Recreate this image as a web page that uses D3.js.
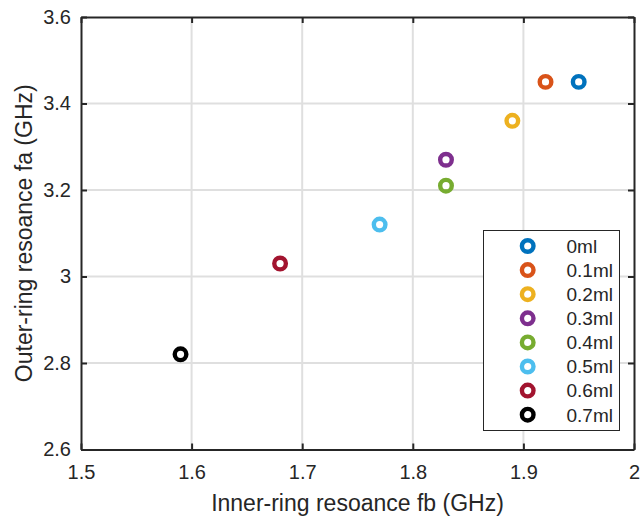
<!DOCTYPE html>
<html><head><meta charset="utf-8">
<script src="https://cdn.jsdelivr.net/npm/d3@7"></script>
<style>body{margin:0;background:#fff}svg{display:block}text{font-family:"Liberation Sans",Arial,Helvetica,sans-serif;fill:#262626}</style>
</head><body><svg id="c" width="641" height="516"></svg>
<script>
const labels = ["0ml","0.1ml","0.2ml","0.3ml","0.4ml","0.5ml","0.6ml","0.7ml"];
const fbValues = [1.95, 1.92, 1.89, 1.83, 1.83, 1.77, 1.68, 1.59];
const faValues = [3.45, 3.45, 3.36, 3.27, 3.21, 3.12, 3.03, 2.82];
const colors = ["#0072BD","#D95319","#EDB120","#7E2F8E","#77AC30","#4DBEEE","#A2142F","#000000"];
const xTicks = [1.5,1.6,1.7,1.8,1.9,2];
const yTicks = [2.6,2.8,3.0,3.2,3.4,3.6];
const xTickLabels = ["1.5","1.6","1.7","1.8","1.9","2"];
const yTickLabels = ["2.6","2.8","3","3.2","3.4","3.6"];
const xTitle = "Inner-ring resoance fb (GHz)";
const yTitle = "Outer-ring resoance fa (GHz)";

(function(){
const svg = d3.select("#c");
const L=81, R=634, T=17, B=449.5;
const x = d3.scaleLinear().domain([1.5,2]).range([L,R]);
const y = d3.scaleLinear().domain([2.6,3.6]).range([B,T]);
const axC = "#262626";

const g = svg.append("g");
g.selectAll(".gx").data(xTicks.slice(1,-1)).enter().append("line")
  .attr("x1",d=>x(d)).attr("x2",d=>x(d)).attr("y1",T).attr("y2",B)
  .attr("stroke","#dfdfdf").attr("stroke-width",2);
g.selectAll(".gy").data(yTicks.slice(1,-1)).enter().append("line")
  .attr("y1",d=>y(d)).attr("y2",d=>y(d)).attr("x1",L).attr("x2",R)
  .attr("stroke","#dfdfdf").attr("stroke-width",2);

const fmtX = (d,i)=>xTickLabels[i];
const fmtY = (d,i)=>yTickLabels[i];
const axB = svg.append("g").attr("transform",`translate(0,${B})`)
  .call(d3.axisBottom(x).tickValues(xTicks).tickFormat(fmtX).tickSizeInner(-6).tickSizeOuter(0).tickPadding(15));
const axL = svg.append("g").attr("transform",`translate(${L},0)`)
  .call(d3.axisLeft(y).tickValues(yTicks).tickFormat(fmtY).tickSizeInner(-6).tickSizeOuter(0).tickPadding(10));
const axT = svg.append("g").attr("transform",`translate(0,${T})`)
  .call(d3.axisTop(x).tickValues(xTicks).tickFormat("").tickSizeInner(-6).tickSizeOuter(0));
const axR = svg.append("g").attr("transform",`translate(${R},0)`)
  .call(d3.axisRight(y).tickValues(yTicks).tickFormat("").tickSizeInner(-6).tickSizeOuter(0));
[axB,axL,axT,axR].forEach(a=>{
  a.selectAll(".domain").attr("stroke",axC).attr("stroke-width",2);
  a.selectAll(".tick line").attr("stroke",axC).attr("stroke-width",2);
  a.selectAll("text").style("font-family",'"Liberation Sans",Arial,sans-serif').style("font-size","20px").attr("fill",axC);
});
axB.selectAll("text").attr("dy","0.71em");

svg.append("text").attr("x",(L+R)/2).attr("y",511).attr("text-anchor","middle")
  .style("font-size","23px").text(xTitle);
svg.append("text").attr("transform",`translate(32,${(T+B)/2}) rotate(-90)`).attr("text-anchor","middle")
  .style("font-size","23px").text(yTitle);

svg.append("g").selectAll("circle").data(labels).enter().append("circle")
  .attr("cx",(d,i)=>x(fbValues[i])).attr("cy",(d,i)=>y(faValues[i]))
  .attr("r",5.8).attr("fill","none").attr("stroke",(d,i)=>colors[i]).attr("stroke-width",4.4);

const lg = svg.append("g");
lg.append("rect").attr("x",483.5).attr("y",230.5).attr("width",136).attr("height",200)
  .attr("fill","#fff").attr("stroke",axC).attr("stroke-width",1);
const rows = lg.selectAll(".row").data(labels).enter().append("g")
  .attr("transform",(d,i)=>`translate(0,${246+i*24.1})`);
rows.append("circle").attr("cx",527.7).attr("cy",0).attr("r",5.8).attr("fill","none")
  .attr("stroke",(d,i)=>colors[i]).attr("stroke-width",4.4);
rows.append("text").attr("x",566.5).attr("y",0).attr("dy","0.36em").style("font-size","19px").text(d=>d);
})();
</script></body></html>
